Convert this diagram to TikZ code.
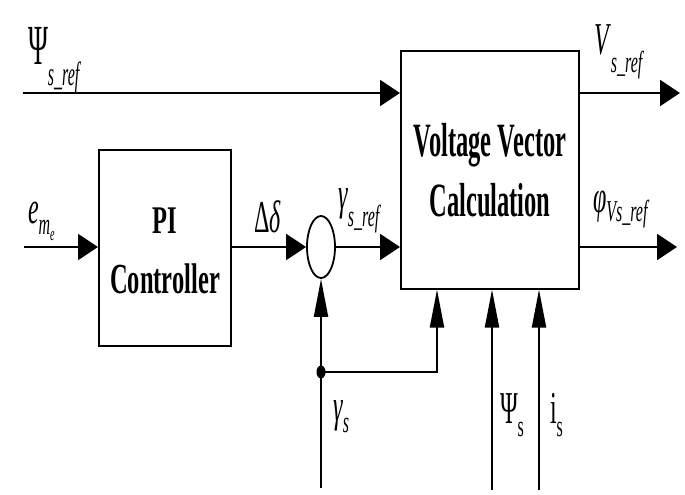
\documentclass[tikz,border=0pt]{standalone}
\usepackage{fontspec}
\setmainfont{Liberation Serif}
\usepackage{graphicx}
\usetikzlibrary{shapes.geometric,arrows.meta,positioning}

\newcommand{\tall}[2][1.9]{\scalebox{1}[#1]{#2}}
\newcommand{\lsub}[2][7pt]{\raisebox{-#1}{\fontsize{16}{16}\selectfont\itshape #2}}

\begin{document}
\begin{tikzpicture}[
  x=1pt, y=-1pt,
  line width=2pt, >=Latex,
  box/.style  = {draw, line width=2pt, inner sep=0pt, align=center,
                 font=\fontsize{24.5}{60}\selectfont\bfseries},
  junc/.style = {draw, ellipse, line width=1.8pt, inner sep=0pt,
                 minimum width=28pt, minimum height=62pt},
  lbl/.style  = {inner sep=0pt, anchor=base west,
                 font=\fontsize{24}{24}\selectfont},
  harr/.style = {-{Triangle[length=20pt,width=26pt]}},
  varr/.style = {-{Triangle[length=38pt,width=14pt]}}
]
\useasboundingbox (0,0) rectangle (685,495);

% blocks
\node[box, minimum width=132pt, minimum height=196pt, text height=90pt, text depth=0pt] (pi) at (165,248)
  {\tall[1.6]{PI}\\\tall[1.75]{Controller}};
\node[box, minimum width=178pt, minimum height=237pt] (vvc) at (490,170)
  {\tall[1.95]{Voltage Vector}\\\tall[1.95]{Calculation}};
\node[junc] (sum) at (321,247) {};

% free ends
\coordinate (psiin)  at (23,93);
\coordinate (ein)    at (24,247);
\coordinate (vout)   at (680,93);
\coordinate (phiout) at (677,247);
\coordinate (gin)    at (321,488);
\coordinate (psisin) at (492,490);
\coordinate (isin)   at (539,490);
\coordinate (tap)    at (321,372);
\coordinate (fb)     at (437,372);

% connectors
\draw[harr] (psiin) -- (psiin -| vvc.west);
\draw[harr] (ein) -- (ein -| pi.west);
\draw[harr] (ein -| pi.east) -- (sum.west);
\draw[harr] (sum.east) -- (sum.east -| vvc.west);
\draw[harr] (psiin -| vvc.east) -- (vout);
\draw[harr] (phiout -| vvc.east) -- (phiout);
\draw[varr] (gin) -- (sum.south);
\draw[varr] (tap) -- (fb) -- (fb |- vvc.south);
\draw[varr] (psisin) -- (psisin |- vvc.south);
\draw[varr] (isin) -- (isin |- vvc.south);
\fill (tap) ellipse (4.5 and 6.5);

% signal names
\node[lbl] (psireflbl) at (27,64)  {\tall[2.1]{\fontsize{27}{27}\selectfont Ψ\lsub[10pt]{s\_ref}}};
\node[lbl] (emelbl)    at (27,223) {\tall{\textit{e}\lsub[6pt]{m\raisebox{-3pt}{\fontsize{10}{10}\selectfont e}}}};
\node[lbl] (ddlbl)     at (253,232) {\tall{Δ\textit{δ}}};
\node[lbl] (greflbl)   at (337,209) {\tall{\textit{γ}\lsub[9pt]{s\_ref}}};
\node[lbl] (vreflbl)   at (593,55)  {\tall{\textit{V}\lsub[9pt]{s\_ref}}};
\node[lbl] (philbl)    at (592,212) {\tall{\textit{φ}\lsub[5pt]{Vs\_ref}}};
\node[lbl] (gslbl)     at (332,421) {\tall{\textit{γ}\lsub[6pt]{s}}};
\node[lbl] (psislbl)   at (499,423) {\tall{Ψ\lsub[7pt]{\upshape s}}};
\node[lbl] (islbl)     at (549,423) {\tall{i\lsub[7pt]{\upshape s}}};

\end{tikzpicture}
\end{document}
